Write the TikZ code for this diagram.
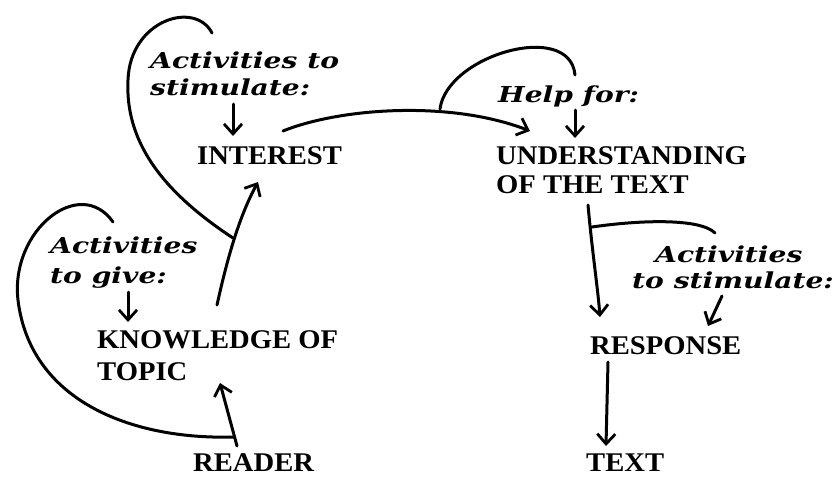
\documentclass[tikz,border=0pt]{standalone}
\usepackage{fontspec}
\usetikzlibrary{arrows.meta}
\newfontfamily\capfont[FakeStretch=1.06]{Liberation Serif}
\newfontfamily\labfont[FakeStretch=1.28]{DejaVu Serif}
\tikzset{
  caps/.style={anchor=base west, inner sep=0pt, font=\capfont\bfseries\fontsize{27}{29}\selectfont},
  lab/.style={anchor=base west, inner sep=0pt, font=\labfont\bfseries\itshape\fontsize{22}{27}\selectfont},
  conn/.style={line width=3pt, line cap=round, line join=round},
  arr/.style={conn, -{Straight Barb[length=10pt,width=18pt,line width=2.8pt]}}
}
\begin{document}
\begin{tikzpicture}[x=1pt,y=-1pt]
\useasboundingbox (0,0) rectangle (835,477);
% text nodes
\node[lab] (act1a) at (150,68) {Activities to};
\node[lab] (act1b) at (150,95) {stimulate:};
\node[caps] (interest) at (197,164) {INTEREST};
\node[lab] (help) at (498,102) {Help for:};
\node[caps] (und1) at (496,164) {UNDERSTANDING};
\node[caps] (und2) at (496,193) {OF THE TEXT};
\node[lab] (act2a) at (50,253) {Activities};
\node[lab] (act2b) at (50,283) {to give:};
\node[caps] (know1) at (97,348) {KNOWLEDGE OF};
\node[caps] (know2) at (97,380) {TOPIC};
\node[caps] (reader) at (193,471) {READER};
\node[lab] (act3a) at (655,262) {Activities};
\node[lab] (act3b) at (632,288) {to stimulate:};
\node[caps] (resp) at (590,354) {RESPONSE};
\node[caps] (text) at (586,471) {TEXT};
% connector end points
\coordinate (a1s) at (233,104);
\coordinate (a1e) at (233,136);
\coordinate (ints) at (283,131);
\coordinate (unde) at (530,131);
\coordinate (hk1s) at (440,109);
\coordinate (hk1e) at (575,75);
\coordinate (hps) at (575,110);
\coordinate (hpe) at (575,138);
\coordinate (unds) at (588,205);
\coordinate (respe) at (600,317);
\coordinate (hk2s) at (592,227);
\coordinate (hk2e) at (715,233);
\coordinate (a3s) at (722,296);
\coordinate (a3e) at (708,326);
\coordinate (resps) at (608,362);
\coordinate (texte) at (606,446);
\coordinate (knows) at (217,305);
\coordinate (inte) at (258,182);
\coordinate (lp1s) at (233,238);
\coordinate (lp1e) at (212,33);
\coordinate (lp2s) at (234,437);
\coordinate (lp2e) at (113,222);
\coordinate (a2s) at (128,292);
\coordinate (a2e) at (128,322);
\coordinate (reads) at (237,446);
\coordinate (knowe) at (220,383);
% connectors
\draw[arr] (a1s) -- (a1e);
\draw[arr] (ints) .. controls (340,108) and (450,100) .. (unde);
\draw[conn] (hk1s) .. controls (447,55) and (570,20) .. (hk1e);
\draw[arr] (hps) -- (hpe);
\draw[arr] (unds) .. controls (592,250) and (598,290) .. (respe);
\draw[conn] (hk2s) .. controls (640,220) and (700,218) .. (hk2e);
\draw[arr] (a3s) -- (a3e);
\draw[arr] (resps) -- (texte);
\draw[arr] (knows) .. controls (228,255) and (240,215) .. (inte);
\draw[conn] (lp1s) .. controls (160,190) and (125,140) .. (128,80) .. controls (130,20) and (195,0) .. (lp1e);
\draw[conn] (lp2s) .. controls (130,440) and (30,400) .. (18,300) .. controls (10,230) and (80,175) .. (lp2e);
\draw[arr] (a2s) -- (a2e);
\draw[arr] (reads) -- (knowe);
\end{tikzpicture}
\end{document}
